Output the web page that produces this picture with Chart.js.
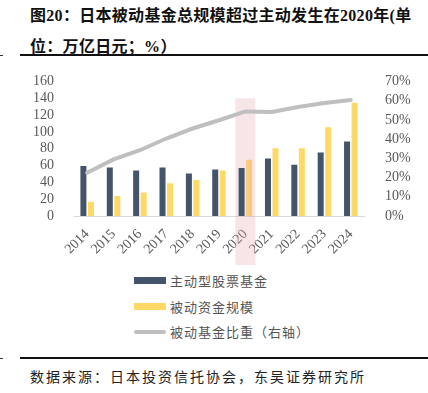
<!DOCTYPE html>
<html>
<head>
<meta charset="utf-8">
<script src="https://cdn.jsdelivr.net/npm/chart.js@4.4.0/dist/chart.umd.min.js"></script>
<style>
  body { margin:0; width:428px; height:393px; background:#fff; position:relative; overflow:hidden; }
  #title { position:absolute; left:30px; top:0; font-family:"Liberation Serif","Noto Sans CJK SC",serif; font-weight:bold; font-size:16px; line-height:31px; color:#111; letter-spacing:0.3px; }
  .rule { position:absolute; left:20px; right:0; height:2px; background:#111; }
  .dash { position:absolute; left:0; width:3px; height:1px; background:#333; }
  #wrap { position:absolute; left:0; top:60px; width:428px; height:205px; }
  #legend { position:absolute; left:134px; top:268px; font-family:"Noto Sans CJK SC",sans-serif; font-size:13px; color:#555; letter-spacing:1px; }
  .item { height:25.5px; display:flex; align-items:center; }
  .sw { width:32px; margin-right:4px; }
  #source { position:absolute; left:30px; top:366px; font-family:"Noto Sans CJK SC",sans-serif; font-size:14px; color:#222; letter-spacing:2px; }
</style>
</head>
<body>
<div id="title">图20：日本被动基金总规模超过主动发生在2020年(单<br>位：万亿日元；%）</div>
<div class="dash" style="top:55px"></div>
<div class="rule" style="top:54px"></div>
<div id="wrap"><canvas id="c"></canvas></div>
<div id="legend"></div>
<div class="dash" style="top:358px"></div>
<div class="rule" style="top:357px"></div>
<div id="source">数据来源：日本投资信托协会，东吴证券研究所</div>
<script>
const years = ['2014','2015','2016','2017','2018','2019','2020','2021','2022','2023','2024'];
const activeFunds = [59.3, 57.7, 54, 57.7, 50.6, 55.3, 57, 68.3, 61, 75.5, 88.5];
const passiveFunds = [17, 23.7, 28, 39, 42.7, 54, 67, 80.6, 80.6, 105.5, 134.7];
const passiveShare = [22.5, 29.4, 34.2, 40.3, 45.5, 49.8, 54.4, 54.1, 56.7, 58.8, 60.3];
const leftTicks = [0, 20, 40, 60, 80, 100, 120, 140, 160];
const rightTicks = [0, 10, 20, 30, 40, 50, 60, 70];
const highlightYear = '2020';

const tickFont = { family: '"Liberation Serif", serif', size: 14 };
const tickColor = '#595959';

// 2020年高亮区域
const highlight = {
  id: 'highlight',
  afterDatasetDraw(chart, args) {
    if (args.index !== 1) return;
    const x = chart.scales.x;
    const y = chart.scales.yLeft;
    const i = years.indexOf(highlightYear);
    const cx = x.getPixelForValue(i);
    const w = (x.getPixelForValue(1) - x.getPixelForValue(0)) * 0.76;
    const top = y.getPixelForValue(140);
    const ctx = chart.ctx;
    ctx.save();
    ctx.fillStyle = 'rgba(232,170,180,0.3)';
    ctx.fillRect(cx - w / 2, top, w, chart.height - top);
    ctx.restore();
  }
};

const chart = new Chart(document.getElementById('c'), {
  type: 'bar',
  data: {
    labels: years,
    datasets: [
      { label: '主动型股票基金', data: activeFunds, backgroundColor: '#44546A', yAxisID: 'yLeft', order: 2, categoryPercentage: 0.57, barPercentage: 0.8 },
      { label: '被动资金规模', data: passiveFunds, backgroundColor: '#FFD966', yAxisID: 'yLeft', order: 2, categoryPercentage: 0.57, barPercentage: 0.8 },
      { type: 'line', label: '被动基金比重（右轴）', data: passiveShare, borderColor: '#BFBFBF', borderWidth: 4, pointRadius: 0, tension: 0, yAxisID: 'yRight', order: 1, borderCapStyle: 'round' }
    ]
  },
  options: {
    responsive: true,
    maintainAspectRatio: false,
    animation: false,
    layout: { padding: { top: 21, left: 0, right: 0, bottom: 0 } },
    plugins: { legend: { display: false }, tooltip: { enabled: false } },
    scales: {
      x: {
        grid: { display: false },
        border: { color: '#D9D9D9', width: 1 },
        ticks: { font: tickFont, color: tickColor, minRotation: 45, maxRotation: 45, padding: 2, autoSkip: false },
        afterFit(s) { s.height = 49; }
      },
      yLeft: {
        position: 'left',
        min: 0, max: 160,
        afterBuildTicks(s) { s.ticks = leftTicks.map(v => ({ value: v })); },
        grid: { display: false },
        border: { display: false },
        ticks: { font: tickFont, color: tickColor, padding: 12, autoSkip: false },
        afterFit(s) { s.width = 74; }
      },
      yRight: {
        position: 'right',
        min: 0, max: 70,
        afterBuildTicks(s) { s.ticks = rightTicks.map(v => ({ value: v })); },
        grid: { display: false },
        border: { display: false },
        ticks: { font: tickFont, color: tickColor, padding: 13, autoSkip: false, callback: v => v + '%' },
        afterFit(s) { s.width = 64; }
      }
    }
  },
  plugins: [highlight]
});

// 图例
const legend = document.getElementById('legend');
chart.data.datasets.forEach(ds => {
  const item = document.createElement('div');
  item.className = 'item';
  const sw = document.createElement('span');
  sw.className = 'sw';
  if (ds.type === 'line') {
    sw.style.height = '4px';
    sw.style.borderRadius = '2px';
    sw.style.background = ds.borderColor;
  } else {
    sw.style.height = '7px';
    sw.style.background = ds.backgroundColor;
  }
  const t = document.createElement('span');
  t.textContent = ds.label;
  item.appendChild(sw);
  item.appendChild(t);
  legend.appendChild(item);
});
</script>
</body>
</html>
